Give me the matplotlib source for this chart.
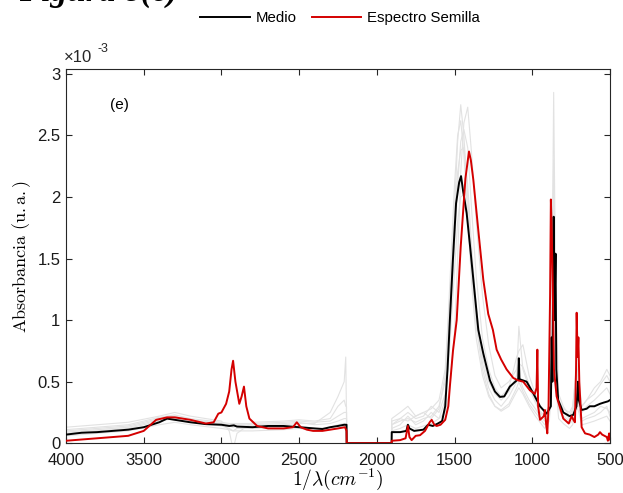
import matplotlib
matplotlib.use("Agg")
import matplotlib.pyplot as plt

plt.rcParams['mathtext.fontset'] = 'cm'
plt.rcParams['font.family'] = ['Liberation Sans', 'DejaVu Sans']

# wavenumber (cm^-1) and absorbance (x 1e-3)
wn_medio = [4000, 3900, 3800, 3700, 3600, 3500, 3400, 3350, 3300, 3200, 3100, 3000, 2950, 2920,
            2900, 2800, 2700, 2600, 2500, 2400, 2350, 2300, 2250, 2210, 2195, 2194, 1905, 1904,
            1850, 1810, 1800, 1790, 1760, 1700, 1670, 1640, 1607, 1580, 1560, 1545, 1530, 1510,
            1490, 1470, 1458, 1445, 1422, 1400, 1368, 1347, 1315, 1272, 1240, 1208, 1180, 1144,
            1100, 1090, 1086, 1082, 1036, 995, 950, 907, 880, 875, 870, 862, 857, 850, 845, 833,
            800, 760, 736, 715, 705, 700, 682, 650, 630, 600, 564, 540, 513, 500]
abs_medio = [0.07, 0.085, 0.09, 0.10, 0.11, 0.13, 0.17, 0.20, 0.19, 0.17, 0.155, 0.15, 0.14, 0.145,
             0.135, 0.13, 0.14, 0.14, 0.13, 0.12, 0.115, 0.13, 0.14, 0.15, 0.15, 0.0, 0.0, 0.09,
             0.09, 0.10, 0.15, 0.12, 0.10, 0.11, 0.15, 0.14, 0.16, 0.18, 0.30, 0.60, 1.0, 1.5,
             1.95, 2.12, 2.17, 2.05, 1.87, 1.6, 1.19, 0.92, 0.73, 0.51, 0.42, 0.376, 0.38, 0.46,
             0.51, 0.52, 0.69, 0.52, 0.50, 0.41, 0.30, 0.24, 0.30, 0.86, 0.5, 1.84, 1.0, 1.54, 0.6, 0.35,
             0.25, 0.22, 0.23, 0.30, 0.50, 0.35, 0.27, 0.28, 0.30, 0.30, 0.32, 0.33, 0.34, 0.35]

wn_semilla = [4000, 3900, 3800, 3700, 3600, 3500, 3420, 3350, 3300, 3200, 3100, 3050, 3020, 3000,
              2970, 2950, 2935, 2925, 2910, 2885, 2870, 2855, 2840, 2820, 2770, 2700, 2600, 2540,
              2515, 2490, 2450, 2410, 2350, 2300, 2250, 2205, 2195, 2194, 1905, 1904, 1850, 1815,
              1800, 1790, 1776, 1750, 1722, 1690, 1660, 1647, 1630, 1615, 1590, 1560, 1540, 1530,
              1510, 1486, 1460, 1430, 1407, 1395, 1379, 1347, 1315, 1283, 1253, 1229, 1200, 1165,
              1122, 1090, 1058, 1015, 983, 972, 967, 962, 950, 925, 918, 910, 903, 895, 885, 880,
              875, 868, 860, 843, 800, 765, 746, 735, 725, 718, 714, 708, 703, 697, 682, 660, 630,
              600, 575, 564, 550, 520, 513, 505, 500]
abs_semilla = [0.02, 0.03, 0.04, 0.05, 0.06, 0.10, 0.19, 0.21, 0.21, 0.19, 0.16, 0.17, 0.24, 0.25,
               0.32, 0.42, 0.60, 0.67, 0.50, 0.32, 0.38, 0.46, 0.30, 0.20, 0.14, 0.12, 0.12, 0.13,
               0.17, 0.13, 0.11, 0.10, 0.10, 0.11, 0.12, 0.13, 0.10, 0.0, 0.0, 0.02, 0.025, 0.04,
               0.14, 0.05, 0.025, 0.06, 0.065, 0.10, 0.17, 0.19, 0.15, 0.14, 0.15, 0.19, 0.30, 0.46,
               0.75, 1.0, 1.6, 2.15, 2.37, 2.3, 2.14, 1.73, 1.33, 1.05, 0.92, 0.76, 0.68, 0.60,
               0.53, 0.51, 0.50, 0.43, 0.40, 0.45, 0.76, 0.30, 0.19, 0.22, 0.27, 0.15, 0.08, 0.30, 1.2, 1.98,
               1.75, 1.3, 0.6, 0.38, 0.20, 0.16, 0.22, 0.19, 0.17, 0.6, 1.06, 0.7, 0.86, 0.5, 0.13, 0.08, 0.07,
               0.05, 0.07, 0.09, 0.07, 0.05, 0.02, 0.08, 0.03]

# individual spectra (light gray)
wn_gris = [4000, 3800, 3600, 3400, 3300, 3200, 3000, 2950, 2925, 2900, 2800, 2600, 2500, 2400,
           2300, 2250, 2210, 2200, 2195, 2194, 1905, 1904, 1850, 1800, 1750, 1700, 1650, 1600,
           1560, 1530, 1500, 1480, 1460, 1440, 1415, 1390, 1360, 1320, 1280, 1240, 1200, 1150,
           1100, 1086, 1060, 1020, 980, 950, 920, 890, 875, 862, 850, 830, 800, 760, 740, 714,
           700, 680, 650, 600, 560, 520, 500]
gris_1 = [0.10, 0.12, 0.14, 0.20, 0.22, 0.19, 0.16, 0.15, 0.15, 0.15, 0.15, 0.16, 0.17, 0.15,
          0.16, 0.18, 0.2, 0.2, 0.2, 0, 0, 0.15, 0.18, 0.2, 0.17, 0.2, 0.22, 0.3,
          0.5, 1.1, 1.9, 2.45, 2.75, 2.5, 2.0, 1.5, 1.0, 0.65, 0.45, 0.35, 0.3, 0.38,
          0.5, 0.55, 0.45, 0.35, 0.28, 0.22, 0.18, 0.22, 0.6, 1.2, 0.7, 0.3, 0.22, 0.18, 0.2, 0.45,
          0.35, 0.2, 0.22, 0.25, 0.3, 0.28, 0.25]
gris_2 = [0.08, 0.1, 0.12, 0.18, 0.2, 0.18, 0.14, 0.12, 0.1, 0.12, 0.12, 0.13, 0.14, 0.12,
          0.13, 0.15, 0.16, 0.15, 0.15, 0, 0, 0.12, 0.15, 0.22, 0.15, 0.18, 0.25, 0.2,
          0.25, 0.45, 0.9, 1.5, 2.2, 2.6, 2.73, 2.35, 1.8, 1.2, 0.8, 0.55, 0.45, 0.5,
          0.6, 0.65, 0.62, 0.48, 0.35, 0.25, 0.2, 0.25, 0.7, 1.5, 0.9, 0.35, 0.25, 0.2, 0.25, 0.55,
          0.4, 0.25, 0.3, 0.35, 0.4, 0.45, 0.4]
gris_3 = [0.13, 0.15, 0.17, 0.22, 0.25, 0.22, 0.18, 0.1, -0.05, 0.08, 0.17, 0.18, 0.19, 0.18,
          0.2, 0.3, 0.35, 0.3, 0.3, 0, 0, 0.2, 0.25, 0.3, 0.22, 0.25, 0.28, 0.35,
          0.6, 1.2, 1.8, 2.2, 2.38, 2.4, 2.1, 1.6, 1.1, 0.7, 0.5, 0.4, 0.35, 0.42,
          0.55, 0.95, 0.6, 0.45, 0.33, 0.26, 0.22, 0.28, 1.1, 2.3, 1.0, 0.35, 0.28, 0.25, 0.3, 0.6,
          0.45, 0.3, 0.35, 0.4, 0.48, 0.55, 0.5]
gris_4 = [0.06, 0.08, 0.1, 0.15, 0.17, 0.15, 0.12, 0.11, 0.1, 0.1, 0.1, 0.11, 0.12, 0.1,
          0.11, 0.12, 0.14, 0.14, 0.14, 0, 0, 0.1, 0.12, 0.15, 0.12, 0.14, 0.16, 0.2,
          0.35, 0.8, 1.4, 1.8, 2.0, 2.02, 1.8, 1.4, 0.95, 0.6, 0.4, 0.3, 0.26, 0.3,
          0.42, 0.45, 0.4, 0.3, 0.22, 0.17, 0.12, 0.18, 0.45, 0.9, 0.5, 0.2, 0.16, 0.12, 0.15, 0.3,
          0.25, 0.15, 0.16, 0.18, 0.2, 0.22, 0.18]
gris_5 = [0.11, 0.13, 0.15, 0.21, 0.23, 0.2, 0.17, 0.16, 0.16, 0.16, 0.16, 0.17, 0.18, 0.17,
          0.18, 0.22, 0.25, 0.25, 0.25, 0, 0, 0.18, 0.2, 0.25, 0.2, 0.22, 0.3, 0.25,
          0.4, 0.9, 1.6, 2.1, 2.45, 2.55, 2.4, 1.9, 1.35, 0.85, 0.6, 0.45, 0.38, 0.45,
          0.7, 0.75, 0.8, 0.55, 0.4, 0.3, 0.25, 0.3, 1.0, 2.85, 1.3, 0.4, 0.3, 0.22, 0.28, 0.65,
          0.5, 0.3, 0.35, 0.45, 0.5, 0.6, 0.55]
gris_6 = [0.09, 0.11, 0.13, 0.19, 0.21, 0.19, 0.15, 0.14, 0.13, 0.14, 0.14, 0.15, 0.16, 0.16,
          0.25, 0.38, 0.5, 0.7, 0.2, 0, 0, 0.15, 0.2, 0.18, 0.22, 0.25, 0.2, 0.28,
          0.55, 1.3, 2.1, 2.5, 2.62, 2.35, 1.85, 1.3, 0.85, 0.55, 0.38, 0.3, 0.27, 0.32,
          0.45, 0.5, 0.42, 0.32, 0.25, 0.2, 0.15, 0.2, 0.8, 1.7, 0.8, 0.28, 0.2, 0.16, 0.18, 0.4,
          0.3, 0.18, 0.2, 0.22, 0.25, 0.3, 0.22]
grises = [gris_1, gris_2, gris_3, gris_4, gris_5, gris_6]

xticks = [4000, 3500, 3000, 2500, 2000, 1500, 1000, 500]
yticks = [0, 0.5, 1, 1.5, 2, 2.5, 3]
yticklabels = ['0', '0.5', '1', '1.5', '2', '2.5', '3']

fig = plt.figure(figsize=(6.23, 4.93), dpi=100)
ax = fig.add_axes([0.106, 0.101, 0.873, 0.759])

for g in grises:
    ax.plot(wn_gris, g, color='#e2e2e2', lw=0.8, zorder=1)
ax.plot(wn_medio, abs_medio, color='black', lw=1.4, label='Medio', zorder=3)
ax.plot(wn_semilla, abs_semilla, color='#d40000', lw=1.4, label='Espectro Semilla', zorder=4)

ax.set_xlim(4000, 500)
ax.set_ylim(0, 3.04)
ax.set_xticks(xticks)
ax.set_yticks(yticks)
ax.set_yticklabels(yticklabels)
ax.tick_params(direction='in', top=True, right=True, labelsize=12, length=4,
               color='#262626', labelcolor='#1a1a1a')
ax.tick_params(axis='x', pad=7)
ax.tick_params(axis='y', pad=4)
for s in ax.spines.values():
    s.set_color('#262626')
    s.set_linewidth(0.8)

ax.set_xlabel(r'$1/\lambda(cm^{-1})$', fontsize=14, labelpad=-1)
ax.set_ylabel(r'$\mathrm{Absorbancia\ (u.a.)}$', fontsize=13, labelpad=3)

ax.text(-0.004, 1.01, '×10', transform=ax.transAxes, fontsize=12, color='#262626',
        ha='left', va='bottom')
ax.text(0.058, 1.038, '-3', transform=ax.transAxes, fontsize=9, color='#262626',
        ha='left', va='bottom')
ax.text(3720, 2.75, '(e)', fontsize=11, ha='left', va='center')

fig.text(0.03, 0.998, 'Figura 8(e)', fontsize=24, family='Liberation Serif',
         weight='bold', style='italic', ha='left', va='baseline')

fig.legend(loc='center', bbox_to_anchor=(0.546, 0.963), ncol=2, frameon=False,
           fontsize=10.8, handlelength=3.3, columnspacing=1.0, handletextpad=0.4)

fig.savefig('out.png', dpi=100)
